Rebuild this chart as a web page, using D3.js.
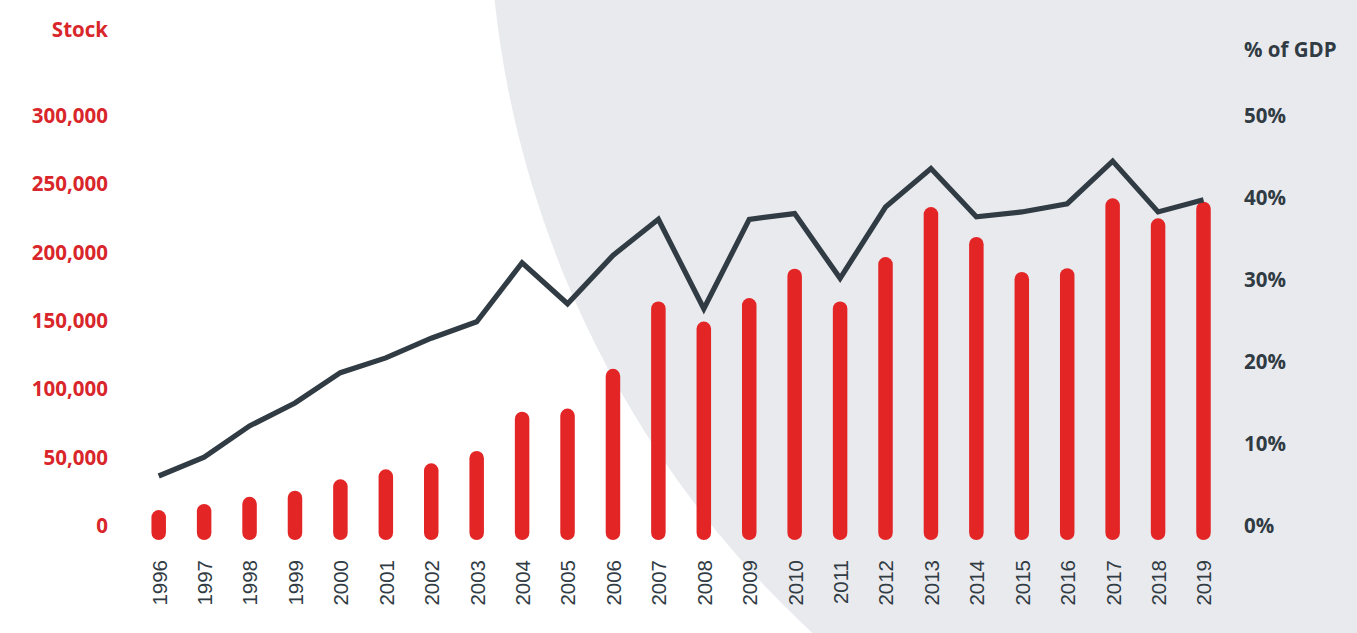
<!DOCTYPE html>
<html>
<head>
<meta charset="utf-8">
<script src="https://cdn.jsdelivr.net/npm/d3@7"></script>
<style>
  html, body { margin: 0; padding: 0; background: #fff; }
  #chart { width: 1357px; height: 633px; overflow: hidden; }
  text { font-family: "Open Sans", "Noto Sans", sans-serif; }
</style>
</head>
<body>
<div id="chart"></div>
<script>
// data
const years     = ['1996','1997','1998','1999','2000','2001','2002','2003','2004','2005','2006','2007',
                   '2008','2009','2010','2011','2012','2013','2014','2015','2016','2017','2018','2019'];
const stock     = [11700, 16100, 21400, 25800, 34200, 41500, 45900, 54900, 83600, 85900, 115000, 164300,
                   149600, 166800, 188300, 164300, 196800, 233400, 211500, 185900, 188600, 239800, 225100, 237300];
const pctGdp    = [0.061, 0.084, 0.122, 0.150, 0.187, 0.205, 0.229, 0.249, 0.321, 0.271, 0.330, 0.374,
                   0.265, 0.374, 0.381, 0.302, 0.389, 0.436, 0.377, 0.383, 0.393, 0.445, 0.383, 0.398];
const leftTicks  = [0, 50000, 100000, 150000, 200000, 250000, 300000];
const rightTicks = [0, 0.1, 0.2, 0.3, 0.4, 0.5];

;(function(){
  const W = 1357, H = 633;
  const red = '#e32526', redText = '#d9262b', dark = '#303b43';

  const svg = d3.select('#chart').append('svg')
    .attr('width', W).attr('height', H);

  // big grey disc in the background
  svg.append('circle')
    .attr('cx', 1495).attr('cy', -106).attr('r', 1006)
    .attr('fill', '#e9eaee');

  const x = d3.scalePoint().domain(years).range([158.7, 1203.5]);
  const yL = d3.scaleLinear().domain([0, 300000]).range([526, 116]);
  const yR = d3.scaleLinear().domain([0, 0.5]).range([526, 116]);

  const barW = 14.5;
  const data = years.map((y, i) => ({year: y, stock: stock[i], pct: pctGdp[i]}));

  svg.append('g').selectAll('rect')
    .data(data)
    .enter().append('rect')
      .attr('x', d => x(d.year) - barW/2)
      .attr('y', d => yL(d.stock))
      .attr('width', barW)
      .attr('height', d => yL(0) + 14 - yL(d.stock))
      .attr('rx', barW/2)
      .attr('fill', red);

  const line = d3.line()
    .x(d => x(d.year))
    .y(d => yR(d.pct));

  svg.append('path')
    .datum(data)
    .attr('d', line)
    .attr('fill', 'none')
    .attr('stroke', dark)
    .attr('stroke-width', 5.2)
    .attr('stroke-linejoin', 'miter');

  // left axis
  const gl = svg.append('g')
    .attr('transform', 'translate(108,0)')
    .call(d3.axisLeft(yL).tickValues(leftTicks).tickSize(0).tickPadding(0).tickFormat(d3.format(',')));
  gl.select('.domain').remove();
  gl.selectAll('text')
    .attr('fill', redText).attr('font-size', 20.5).attr('font-weight', 700)
    .style('font-family', '"Open Sans", sans-serif');

  // right axis
  const gr = svg.append('g')
    .attr('transform', 'translate(1244,0)')
    .call(d3.axisRight(yR).tickValues(rightTicks).tickSize(0).tickPadding(0).tickFormat(d3.format('.0%')));
  gr.select('.domain').remove();
  gr.selectAll('text')
    .attr('fill', dark).attr('font-size', 20.5).attr('font-weight', 700)
    .style('font-family', '"Open Sans", sans-serif');

  // year labels
  const gb = svg.append('g')
    .attr('transform', 'translate(0,560)')
    .call(d3.axisBottom(x).tickSize(0).tickPadding(0));
  gb.select('.domain').remove();
  gb.selectAll('text')
    .attr('transform', 'rotate(-90)')
    .attr('text-anchor', 'end')
    .attr('x', 0).attr('y', 0).attr('dy', '0.36em')
    .attr('fill', dark).attr('font-size', 20.5)
    .style('font-family', '"Liberation Sans", Arial, sans-serif');

  // axis titles
  svg.append('text')
    .attr('x', 108).attr('y', 30).attr('dy', '0.36em')
    .attr('text-anchor', 'end')
    .attr('fill', redText).attr('font-size', 20.5).attr('font-weight', 700)
    .text('Stock');

  svg.append('text')
    .attr('x', 1244).attr('y', 50).attr('dy', '0.36em')
    .attr('fill', dark).attr('font-size', 20.5).attr('font-weight', 700)
    .text('% of GDP');
})();
</script>
</body>
</html>
